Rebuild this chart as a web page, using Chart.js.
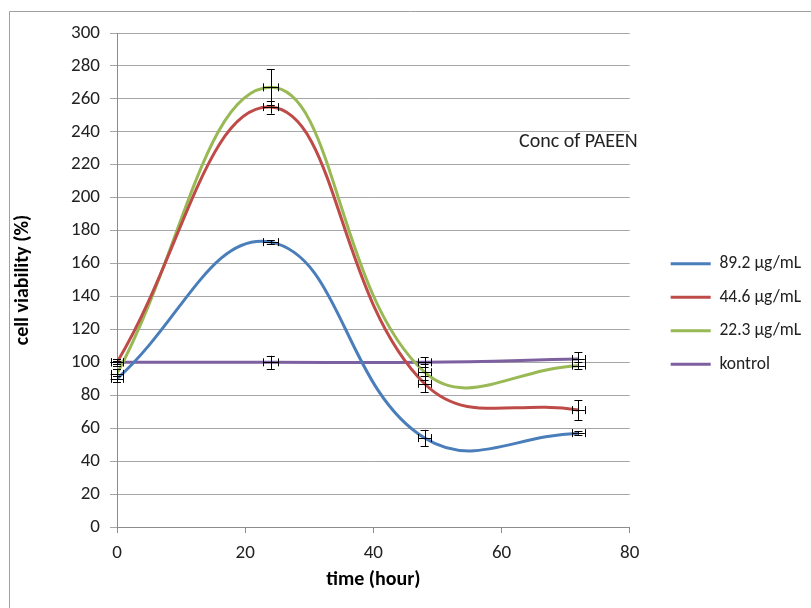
<!DOCTYPE html>
<html>
<head>
<meta charset="utf-8">
<script src="https://cdn.jsdelivr.net/npm/chart.js@4/dist/chart.umd.min.js"></script>
<style>
  html, body { margin: 0; padding: 0; background: #fff; }
  #wrap { width: 811px; height: 608px; position: relative; }
</style>
</head>
<body>
<div id="wrap"><canvas id="myChart" width="811" height="608"></canvas></div>
<script>
// Time points (hours)
const hours = [0, 24, 48, 72];

// Series labels
const seriesLabels = ['89.2 µg/mL', '44.6 µg/mL', '22.3 µg/mL', 'kontrol'];

// Cell viability (%) for each concentration
const conc89 = [90, 173, 54, 57];
const conc44 = [100, 255, 87, 71];
const conc22 = [93, 267, 94, 98];
const kontrol = [100, 100, 100, 102];

// Error bars (+/-) in % and in hours
const err89 = [2, 1, 5, 1];
const err44 = [2, 4, 5, 6];
const err22 = [3, 11, 5, 2];
const errKontrol = [1, 4, 3, 4];
const errHours = [1, 1.2, 1, 1];

const seriesValues = [conc89, conc44, conc22, kontrol];
const seriesErrors = [err89, err44, err22, errKontrol];
const seriesColors = ['#4a7ebb', '#be4b48', '#98b954', '#7d60a0'];

const FONT = "Carlito, 'Open Sans', sans-serif";

// Build datasets from the arrays
const datasets = seriesValues.map((vals, i) => ({
    label: seriesLabels[i],
    data: hours.map((h, j) => ({ x: h, y: vals[j] })),
    borderColor: seriesColors[i],
    backgroundColor: seriesColors[i],
    borderWidth: 3,
    pointRadius: 0,
    tension: 0.42,
    fill: false,
    errY: seriesErrors[i]
}));

// Draws x and y error bars using the chart scales
const errorBars = {
    id: 'errorBars',
    afterDatasetsDraw(chart) {
        const ctx = chart.ctx;
        const xs = chart.scales.x, ys = chart.scales.y;
        ctx.save();
        ctx.strokeStyle = '#000';
        ctx.lineWidth = 1;
        chart.data.datasets.forEach(ds => {
            ds.data.forEach((p, j) => {
                const e = ds.errY[j];
                const px = xs.getPixelForValue(p.x);
                const py = ys.getPixelForValue(p.y);
                const yTop = ys.getPixelForValue(p.y + e);
                const yBot = ys.getPixelForValue(p.y - e);
                const xL = xs.getPixelForValue(p.x - errHours[j]);
                const xR = xs.getPixelForValue(p.x + errHours[j]);
                ctx.beginPath();
                // vertical
                ctx.moveTo(Math.round(px) + 0.5, yTop);
                ctx.lineTo(Math.round(px) + 0.5, yBot);
                ctx.moveTo(px - 4, Math.round(yTop) + 0.5);
                ctx.lineTo(px + 4, Math.round(yTop) + 0.5);
                ctx.moveTo(px - 4, Math.round(yBot) + 0.5);
                ctx.lineTo(px + 4, Math.round(yBot) + 0.5);
                // horizontal
                ctx.moveTo(xL, Math.round(py) + 0.5);
                ctx.lineTo(xR, Math.round(py) + 0.5);
                ctx.moveTo(Math.round(xL) + 0.5, py - 4);
                ctx.lineTo(Math.round(xL) + 0.5, py + 4);
                ctx.moveTo(Math.round(xR) + 0.5, py - 4);
                ctx.lineTo(Math.round(xR) + 0.5, py + 4);
                ctx.stroke();
            });
        });
        ctx.restore();
    }
};

// Background, frame and the inner note
const extras = {
    id: 'extras',
    beforeDraw(chart) {
        const ctx = chart.ctx;
        ctx.save();
        ctx.fillStyle = '#fff';
        ctx.fillRect(0, 0, chart.width, chart.height);
        ctx.strokeStyle = '#a0a0a0';
        ctx.lineWidth = 1;
        ctx.beginPath();
        ctx.moveTo(9.5, chart.height);
        ctx.lineTo(9.5, 11.5);
        ctx.lineTo(chart.width, 11.5);
        ctx.stroke();
        ctx.restore();
    },
    afterDraw(chart) {
        const ctx = chart.ctx;
        ctx.save();
        ctx.fillStyle = '#222';
        ctx.font = '20px ' + FONT;
        ctx.textBaseline = 'middle';
        ctx.fillText('Conc of PAEEN', 519, 142);
        ctx.restore();
    }
};

const ctx = document.getElementById('myChart').getContext('2d');
const myChart = new Chart(ctx, {
    type: 'line',
    data: { datasets: datasets },
    plugins: [errorBars, extras],
    options: {
        responsive: false,
        animation: false,
        layout: { padding: { left: 10, top: 33, right: 0, bottom: 13 } },
        plugins: {
            tooltip: { enabled: false },
            legend: {
                position: 'right',
                maxWidth: 300,
                labels: {
                    usePointStyle: true,
                    pointStyle: 'line',
                    pointStyleWidth: 40,
                    padding: 16,
                    color: '#222',
                    font: { family: FONT, size: 17.5 }
                }
            }
        },
        scales: {
            x: {
                type: 'linear',
                min: 0,
                max: 80,
                ticks: { stepSize: 20, color: '#222', padding: 9, font: { family: FONT, size: 19 } },
                grid: { drawOnChartArea: false, drawTicks: true, tickLength: 6, color: '#8c8c8c' },
                border: { color: '#8c8c8c' },
                title: {
                    display: true,
                    text: 'time (hour)',
                    color: '#000',
                    font: { family: FONT, size: 20, weight: 'bold' },
                    padding: { top: 0, bottom: 3 }
                },
                afterFit(scale) { scale.height = 68; }
            },
            y: {
                min: 0,
                max: 300,
                ticks: { stepSize: 20, color: '#222', padding: 10, font: { family: FONT, size: 19 } },
                grid: { color: '#a6a6a6', tickLength: 7 },
                border: { color: '#8c8c8c' },
                title: {
                    display: true,
                    text: 'cell viability (%)',
                    color: '#000',
                    font: { family: FONT, size: 20, weight: 'bold' },
                    padding: { top: 1, bottom: 0 }
                },
                afterFit(scale) { scale.width = 107; }
            },
            gap: {
                position: 'right',
                display: true,
                ticks: { display: false },
                grid: { display: false },
                border: { display: false },
                afterFit(scale) { scale.width = 25; }
            }
        }
    }
});
</script>
</body>
</html>
